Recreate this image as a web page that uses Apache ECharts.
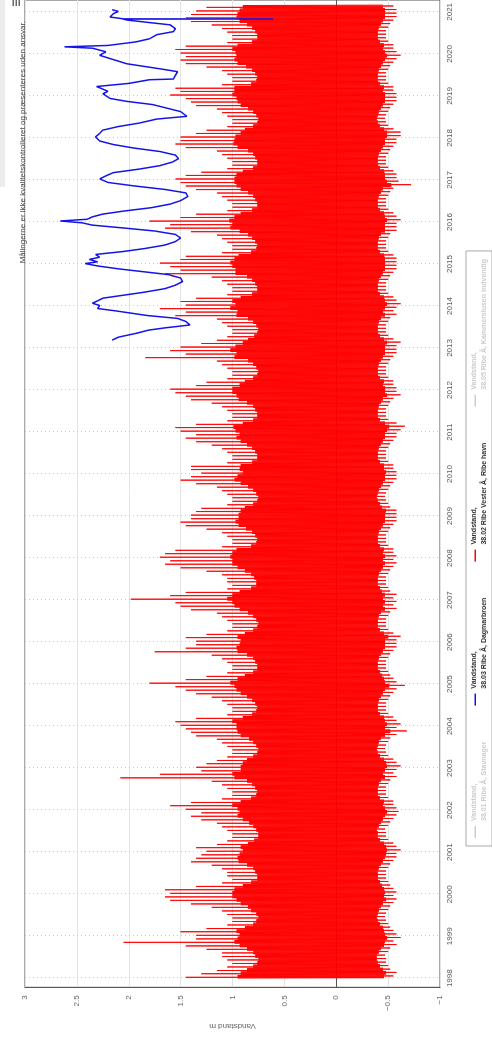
<!DOCTYPE html>
<html>
<head>
<meta charset="utf-8">
<script src="https://cdn.jsdelivr.net/npm/echarts@6/dist/echarts.min.js"></script>
<style>
  html, body { margin: 0; padding: 0; background: #fff; overflow: hidden; width: 492px; height: 1038px; }
  /* the chart is laid out landscape and turned a quarter turn counter-clockwise */
  #chart { position: absolute; left: 0; top: 0; width: 1038px; height: 492px;
           transform-origin: 0 0; transform: translate(0, 1038px) rotate(-90deg); }
</style>
</head>
<body>
<div id="chart"></div>
<script>
// Series names as shown in the legend
const stationNames = [
  'Vandstand, 38.01 Ribe Å, Stavnager',
  'Vandstand, 38.03 Ribe Å, Dagmarbroen',
  'Vandstand, 38.02 Ribe Vester Å, Ribe havn',
  'Vandstand, 38.05 Ribe Å, Kammerslusen indvendig'
];
const noteText = 'Målingerne er ikke kvalitetskontrolleret og præsenteres uden ansvar.';
const valueAxisName = 'Vandstand m';

// 38.02 Ribe havn, one value per month from Jan 1998 (m):
// highest level of the month
const ribeHavnHigh = [
  1.45,1.30,1.15,1.05,1.00,1.05,1.10,1.10,1.25,1.45,2.05,1.35,
  1.35,1.50,1.25,1.05,1.00,1.00,1.05,1.10,1.20,1.40,1.60,1.65,
  1.60,1.65,1.35,1.10,1.00,1.05,1.05,1.10,1.20,1.40,1.35,1.30,
  1.25,1.35,1.15,1.05,1.00,1.00,1.05,1.10,1.15,1.30,1.40,1.30,
  1.45,1.60,1.40,1.10,1.00,1.00,1.05,1.10,1.20,2.08,1.70,1.30,
  1.35,1.25,1.15,1.05,1.00,1.00,1.05,1.10,1.15,1.35,1.40,1.45,
  1.50,1.55,1.35,1.05,1.00,1.00,1.05,1.10,1.20,1.35,1.45,1.55,
  1.80,1.45,1.25,1.05,1.00,1.00,1.05,1.10,1.20,1.75,1.45,1.35,
  1.35,1.45,1.25,1.05,1.00,1.00,1.05,1.10,1.15,1.40,1.50,1.55,
  1.98,1.60,1.45,1.05,1.00,1.05,1.05,1.10,1.25,1.50,1.65,1.60,
  1.70,1.65,1.55,1.10,1.00,1.00,1.05,1.10,1.25,1.45,1.50,1.40,
  1.40,1.35,1.30,1.05,1.00,1.00,1.05,1.10,1.15,1.35,1.50,1.40,
  1.30,1.40,1.40,1.05,1.00,1.00,1.05,1.10,1.20,1.35,1.45,1.35,
  1.50,1.55,1.35,1.05,1.00,1.00,1.05,1.10,1.20,1.40,1.45,1.55,
  1.60,1.35,1.25,1.05,1.00,1.00,1.05,1.10,1.15,1.84,1.45,1.60,
  1.50,1.30,1.15,1.05,1.00,1.00,1.05,1.10,1.15,1.55,1.45,1.70,
  1.45,1.50,1.35,1.05,1.00,1.00,1.05,1.10,1.20,1.65,1.50,1.60,
  1.70,1.50,1.45,1.10,1.00,1.00,1.05,1.10,1.15,1.40,1.65,1.60,
  1.80,1.50,1.35,1.05,1.00,1.00,1.05,1.10,1.15,1.35,1.45,1.50,
  1.55,1.45,1.30,1.05,1.00,1.00,1.05,1.10,1.15,1.45,1.55,1.50,
  1.50,1.35,1.25,1.05,1.00,1.00,1.05,1.10,1.15,1.35,1.40,1.45,
  1.60,1.50,1.55,1.10,1.00,1.00,1.05,1.10,1.25,1.45,1.50,1.45,
  1.50,1.55,1.45,1.05,1.00,1.00,1.05,1.10,1.20,1.40,1.45,1.40,
  1.35,1.25
];
// lowest level of the month
const ribeHavnLow = [
  -0.55,-0.58,-0.52,-0.50,-0.48,-0.48,-0.47,-0.50,-0.52,-0.58,-0.55,-0.62,
  -0.58,-0.55,-0.52,-0.50,-0.48,-0.47,-0.48,-0.50,-0.52,-0.55,-0.58,-0.55,
  -0.58,-0.55,-0.52,-0.50,-0.48,-0.48,-0.48,-0.50,-0.52,-0.55,-0.58,-0.58,
  -0.62,-0.58,-0.55,-0.50,-0.48,-0.48,-0.47,-0.50,-0.52,-0.55,-0.58,-0.60,
  -0.58,-0.55,-0.55,-0.50,-0.48,-0.48,-0.48,-0.50,-0.52,-0.58,-0.55,-0.58,
  -0.62,-0.58,-0.55,-0.50,-0.48,-0.47,-0.48,-0.50,-0.52,-0.58,-0.68,-0.58,
  -0.62,-0.58,-0.55,-0.50,-0.48,-0.48,-0.48,-0.50,-0.52,-0.55,-0.58,-0.66,
  -0.58,-0.55,-0.52,-0.50,-0.48,-0.48,-0.48,-0.50,-0.52,-0.55,-0.58,-0.58,
  -0.58,-0.62,-0.55,-0.50,-0.48,-0.48,-0.48,-0.50,-0.52,-0.58,-0.55,-0.58,
  -0.55,-0.58,-0.52,-0.50,-0.48,-0.48,-0.48,-0.50,-0.52,-0.55,-0.58,-0.55,
  -0.58,-0.55,-0.55,-0.50,-0.48,-0.48,-0.48,-0.50,-0.52,-0.55,-0.58,-0.58,
  -0.58,-0.58,-0.52,-0.50,-0.48,-0.47,-0.48,-0.50,-0.52,-0.55,-0.58,-0.58,
  -0.58,-0.55,-0.55,-0.50,-0.48,-0.48,-0.48,-0.50,-0.52,-0.55,-0.58,-0.58,
  -0.62,-0.66,-0.58,-0.50,-0.48,-0.48,-0.48,-0.50,-0.52,-0.55,-0.62,-0.58,
  -0.58,-0.55,-0.55,-0.50,-0.48,-0.48,-0.48,-0.50,-0.52,-0.55,-0.58,-0.58,
  -0.58,-0.62,-0.55,-0.50,-0.48,-0.48,-0.48,-0.50,-0.52,-0.58,-0.55,-0.58,
  -0.62,-0.58,-0.55,-0.50,-0.48,-0.48,-0.48,-0.50,-0.52,-0.55,-0.58,-0.58,
  -0.58,-0.58,-0.55,-0.50,-0.48,-0.48,-0.48,-0.50,-0.52,-0.58,-0.58,-0.58,
  -0.62,-0.58,-0.55,-0.50,-0.48,-0.48,-0.48,-0.50,-0.52,-0.55,-0.72,-0.60,
  -0.58,-0.58,-0.55,-0.50,-0.48,-0.48,-0.48,-0.50,-0.52,-0.55,-0.58,-0.58,
  -0.62,-0.62,-0.55,-0.50,-0.48,-0.47,-0.48,-0.50,-0.52,-0.55,-0.58,-0.58,
  -0.58,-0.55,-0.55,-0.50,-0.48,-0.48,-0.48,-0.50,-0.52,-0.55,-0.58,-0.62,
  -0.58,-0.55,-0.55,-0.50,-0.48,-0.48,-0.48,-0.50,-0.52,-0.55,-0.58,-0.58,
  -0.58,-0.55
];
// usual high-tide level of the month
const ribeHavnTideHigh = [
  0.95,0.92,0.86,0.80,0.76,0.75,0.78,0.80,0.86,0.93,0.98,0.95,
  0.93,0.96,0.88,0.80,0.77,0.75,0.77,0.82,0.85,0.92,0.96,1.00,
  1.00,0.98,0.90,0.82,0.76,0.76,0.78,0.80,0.86,0.94,0.95,0.93,
  0.90,0.92,0.85,0.79,0.75,0.75,0.77,0.80,0.84,0.90,0.95,0.93,
  0.95,1.00,0.92,0.82,0.77,0.76,0.78,0.81,0.86,0.98,1.00,0.92,
  0.92,0.90,0.86,0.80,0.76,0.75,0.77,0.80,0.84,0.92,0.95,0.96,
  0.96,1.00,0.90,0.81,0.77,0.76,0.78,0.81,0.86,0.92,0.96,0.98,
  1.02,0.95,0.88,0.80,0.76,0.76,0.78,0.80,0.86,0.95,0.96,0.93,
  0.92,0.95,0.88,0.80,0.76,0.75,0.77,0.80,0.85,0.93,0.98,1.00,
  1.05,1.00,0.93,0.82,0.77,0.77,0.79,0.82,0.88,0.95,1.00,1.00,
  1.02,1.00,0.96,0.82,0.77,0.76,0.78,0.81,0.87,0.94,0.97,0.94,
  0.94,0.92,0.88,0.80,0.76,0.75,0.77,0.80,0.85,0.92,0.98,0.95,
  0.90,0.93,0.92,0.81,0.76,0.76,0.78,0.81,0.86,0.92,0.96,0.93,
  0.97,0.99,0.90,0.80,0.76,0.76,0.78,0.80,0.86,0.94,0.96,1.00,
  1.00,0.93,0.88,0.80,0.76,0.75,0.77,0.80,0.85,0.98,0.96,1.02,
  0.97,0.90,0.85,0.79,0.76,0.75,0.77,0.80,0.85,0.96,0.95,1.02,
  0.97,1.00,0.92,0.81,0.76,0.76,0.78,0.81,0.86,0.97,0.97,1.00,
  1.02,0.98,0.94,0.82,0.77,0.76,0.78,0.81,0.85,0.93,1.02,1.00,
  1.03,0.98,0.92,0.81,0.76,0.76,0.78,0.80,0.85,0.92,0.96,0.98,
  0.98,0.96,0.90,0.80,0.76,0.76,0.78,0.80,0.85,0.95,0.99,0.98,
  0.97,0.92,0.88,0.80,0.76,0.75,0.77,0.80,0.85,0.92,0.95,0.96,
  1.00,0.98,0.98,0.82,0.77,0.76,0.78,0.81,0.87,0.95,0.98,0.96,
  0.97,1.00,0.95,0.81,0.76,0.76,0.78,0.81,0.86,0.93,0.96,0.95,
  0.93,0.90
];
// usual low-tide level of the month
const ribeHavnTideLow = [
  -0.46,-0.48,-0.45,-0.42,-0.40,-0.39,-0.39,-0.41,-0.43,-0.46,-0.47,-0.49,
  -0.47,-0.46,-0.45,-0.42,-0.40,-0.39,-0.40,-0.41,-0.43,-0.45,-0.48,-0.46,
  -0.47,-0.46,-0.44,-0.42,-0.40,-0.40,-0.40,-0.41,-0.43,-0.45,-0.47,-0.48,
  -0.49,-0.48,-0.46,-0.42,-0.40,-0.40,-0.39,-0.41,-0.43,-0.45,-0.47,-0.49,
  -0.47,-0.45,-0.46,-0.42,-0.40,-0.40,-0.40,-0.41,-0.43,-0.47,-0.45,-0.47,
  -0.49,-0.48,-0.46,-0.42,-0.40,-0.39,-0.40,-0.41,-0.43,-0.47,-0.52,-0.47,
  -0.49,-0.47,-0.46,-0.42,-0.40,-0.40,-0.40,-0.41,-0.43,-0.45,-0.47,-0.51,
  -0.47,-0.46,-0.44,-0.42,-0.40,-0.40,-0.40,-0.41,-0.43,-0.45,-0.47,-0.47,
  -0.47,-0.50,-0.46,-0.42,-0.40,-0.40,-0.40,-0.41,-0.43,-0.47,-0.45,-0.47,
  -0.45,-0.47,-0.44,-0.42,-0.40,-0.40,-0.40,-0.41,-0.43,-0.45,-0.47,-0.45,
  -0.47,-0.45,-0.46,-0.42,-0.40,-0.40,-0.40,-0.41,-0.43,-0.45,-0.47,-0.47,
  -0.47,-0.48,-0.44,-0.42,-0.40,-0.39,-0.40,-0.41,-0.43,-0.45,-0.47,-0.47,
  -0.48,-0.46,-0.46,-0.42,-0.40,-0.40,-0.40,-0.41,-0.43,-0.45,-0.47,-0.47,
  -0.49,-0.51,-0.47,-0.42,-0.40,-0.40,-0.40,-0.41,-0.43,-0.45,-0.49,-0.47,
  -0.47,-0.45,-0.46,-0.42,-0.40,-0.40,-0.40,-0.41,-0.43,-0.45,-0.47,-0.47,
  -0.47,-0.49,-0.46,-0.42,-0.40,-0.40,-0.40,-0.41,-0.43,-0.47,-0.45,-0.47,
  -0.49,-0.47,-0.46,-0.42,-0.40,-0.40,-0.40,-0.41,-0.43,-0.45,-0.47,-0.47,
  -0.47,-0.47,-0.46,-0.42,-0.40,-0.40,-0.40,-0.41,-0.43,-0.47,-0.47,-0.47,
  -0.49,-0.47,-0.46,-0.42,-0.40,-0.40,-0.40,-0.41,-0.43,-0.45,-0.53,-0.49,
  -0.47,-0.47,-0.46,-0.42,-0.40,-0.40,-0.40,-0.41,-0.43,-0.45,-0.47,-0.47,
  -0.49,-0.49,-0.46,-0.42,-0.40,-0.39,-0.40,-0.41,-0.43,-0.45,-0.47,-0.47,
  -0.47,-0.45,-0.46,-0.42,-0.40,-0.40,-0.40,-0.41,-0.43,-0.45,-0.47,-0.49,
  -0.47,-0.45,-0.46,-0.42,-0.40,-0.40,-0.40,-0.41,-0.43,-0.45,-0.47,-0.47,
  -0.47,-0.45
];

// 38.03 Dagmarbroen: water level readings (m)
const dagmarbroenDates = [
  '2013-03-10','2013-04-05','2013-05-10','2013-06-05','2013-06-25','2013-07-20','2013-08-20','2013-09-15','2013-10-10','2013-11-20','2013-12-10',
  '2014-01-05','2014-01-25','2014-02-15','2014-03-10','2014-04-05','2014-05-01','2014-06-01','2014-07-01','2014-08-01','2014-09-01','2014-10-01','2014-10-25','2014-11-20','2014-12-15',
  '2015-01-05','2015-01-20','2015-02-10','2015-03-01','2015-03-25','2015-04-20','2015-05-15','2015-06-15','2015-07-15','2015-08-15','2015-09-15','2015-10-15','2015-11-10','2015-12-05','2015-12-25',
  '2016-01-10','2016-01-25','2016-02-15','2016-03-10','2016-04-05','2016-05-05','2016-06-05','2016-07-05','2016-08-10','2016-09-10','2016-10-10','2016-11-10','2016-12-10',
  '2017-01-10','2017-02-05','2017-03-05','2017-04-05','2017-05-05','2017-06-05','2017-07-05','2017-08-05','2017-09-05','2017-10-05','2017-11-05','2017-12-05',
  '2018-01-10','2018-02-10','2018-03-10','2018-04-10','2018-05-10','2018-06-14','2018-07-08','2018-08-18','2018-10-18','2018-11-15','2018-12-10',
  '2019-01-20','2019-02-10','2019-03-24','2019-04-20','2019-05-22','2019-05-28','2019-07-31','2019-08-25','2019-10-08','2019-11-22','2019-12-20',
  '2020-01-20','2020-02-20','2020-03-03','2020-03-15','2020-04-15','2020-05-12','2020-06-17','2020-07-13','2020-08-07','2020-09-10','2020-10-22','2020-10-30','2020-10-31','2020-11-01','2020-11-17','2020-12-15',
  '2021-01-05','2021-01-20'
];
const dagmarbroenLevels = [
  2.16,2.10,1.92,1.81,1.65,1.41,1.45,1.53,1.82,2.13,2.30,
  2.28,2.35,2.30,2.25,2.05,1.85,1.65,1.55,1.48,1.50,1.62,1.85,2.10,2.30,
  2.42,2.30,2.38,2.28,2.32,2.05,1.85,1.65,1.55,1.50,1.55,1.75,2.05,2.35,2.45,
  2.66,2.40,2.35,2.25,2.05,1.78,1.60,1.50,1.43,1.45,1.65,1.95,2.20,
  2.28,2.22,2.15,1.90,1.70,1.58,1.52,1.55,1.70,1.95,2.15,2.28,
  2.32,2.28,2.25,2.10,1.90,1.73,1.44,1.50,1.77,2.02,2.18,
  2.25,2.20,2.31,2.00,1.80,1.57,1.53,1.70,2.02,2.18,2.28,
  2.22,2.35,2.62,2.20,1.93,1.80,1.73,1.57,1.55,1.60,2.02,2.05,0.61,2.05,2.18,2.15,
  2.10,2.16
];

// each month is drawn as a run of tides: usual highs and lows with the month's extremes
const tideSteps = [
  [2, 'H'], [6, 'L'], [9, 'MAX'], [13, 'L'], [17, 'H'],
  [21, 'MIN'], [25, 'H'], [29, 'L']
];
const ribeHavnData = [];
ribeHavnHigh.forEach((hi, i) => {
  const y = 1998 + Math.floor(i / 12), m = i % 12;
  const pick = { H: ribeHavnTideHigh[i], L: ribeHavnTideLow[i], MAX: hi, MIN: ribeHavnLow[i] };
  tideSteps.forEach(([day, kind]) => ribeHavnData.push([Date.UTC(y, m, day), pick[kind]]));
});
const dagmarbroenData = dagmarbroenDates.map((d, i) => [d, dagmarbroenLevels[i]]);

const DAY = 24 * 3600 * 1000;
const chart = echarts.init(document.getElementById('chart'), null, { renderer: 'canvas', width: 1038, height: 492 });

const labelFont = 'Liberation Sans, Arial, sans-serif';
const fmtValue = v => (v < 0 ? '\u2212' + Math.abs(v) : String(v));

chart.setOption({
  animation: false,
  useUTC: true,
  backgroundColor: '#ffffff',
  title: {
    text: noteText,
    right: 16,
    top: 14,
    textStyle: { fontSize: 8, fontWeight: 'normal', color: '#444', fontFamily: labelFont }
  },
  graphic: [
    { type: 'rect', shape: { x: 851, y: 0, width: 190, height: 5 }, style: { fill: '#ececec' }, silent: true },
    { type: 'rect', shape: { x: 1032, y: 12.5, width: 12, height: 1.5 }, style: { fill: '#666' }, silent: true },
    { type: 'rect', shape: { x: 1032, y: 15.5, width: 12, height: 1.5 }, style: { fill: '#666' }, silent: true },
    { type: 'rect', shape: { x: 1032, y: 18.5, width: 12, height: 1.5 }, style: { fill: '#666' }, silent: true }
  ],
  legend: {
    data: stationNames,
    left: 192,
    top: 466,
    orient: 'horizontal',
    itemGap: 36,
    itemWidth: 12,
    itemHeight: 20,
    padding: [3, 8],
    borderColor: '#aaa',
    borderWidth: 1,
    icon: 'path://M0,4L16,4L16,6L0,6Z M0,0L0.01,0L0.01,0.01Z M0,20L0.01,20L0.01,20.01Z',
    selected: { [stationNames[0]]: false, [stationNames[3]]: false },
    inactiveColor: '#cccccc',
    formatter: n => n.replace(', ', ',\n'),
    textStyle: { fontSize: 7, fontWeight: 'bold', color: '#333', lineHeight: 10, fontFamily: labelFont }
  },
  grid: {
    left: 47, right: -2, top: 25, bottom: 52,
    show: true, borderColor: '#555', borderWidth: 1, backgroundColor: '#fff'
  },
  xAxis: {
    type: 'time',
    min: Date.UTC(1997, 9, 14),
    max: Date.UTC(2021, 3, 14),
    minInterval: 365 * DAY,
    maxInterval: 366 * DAY,
    axisLine: { show: true, lineStyle: { color: '#555', width: 1 } },
    axisTick: { show: true, length: 4, lineStyle: { color: '#999' } },
    axisLabel: { formatter: '{yyyy}', fontSize: 8, color: '#555', margin: 6, fontFamily: labelFont,
                 showMinLabel: false, showMaxLabel: false, hideOverlap: false },
    splitLine: { show: true, lineStyle: { color: '#c8c8c8', type: [1, 3], width: 1 } }
  },
  yAxis: {
    type: 'value',
    min: -1, max: 3, interval: 0.5,
    name: valueAxisName,
    nameLocation: 'middle',
    nameGap: 30,
    nameRotate: 90,
    nameTextStyle: { fontSize: 8, color: '#666', fontFamily: labelFont },
    axisLine: { show: true, lineStyle: { color: '#555' } },
    axisTick: { show: false },
    axisLabel: { formatter: fmtValue, fontSize: 8, color: '#666', margin: 8, fontFamily: labelFont },
    splitLine: { show: true, lineStyle: { color: '#e3e3e3', width: 1 } }
  },
  series: [
    { name: stationNames[0], type: 'line', data: [], showSymbol: false, color: '#7cb5ec' },
    { name: stationNames[2], type: 'line', data: ribeHavnData, showSymbol: false, symbol: 'none',
      color: '#ff0000', lineStyle: { width: 0.9, color: '#ff0000' }, z: 2 },
    { name: stationNames[1], type: 'line', data: dagmarbroenData, showSymbol: false, symbol: 'none',
      color: '#1414e6', lineStyle: { width: 1.5, color: '#1414e6' }, z: 3 },
    { name: stationNames[3], type: 'line', data: [], showSymbol: false, color: '#90ed7d' }
  ]
});
</script>
</body>
</html>
